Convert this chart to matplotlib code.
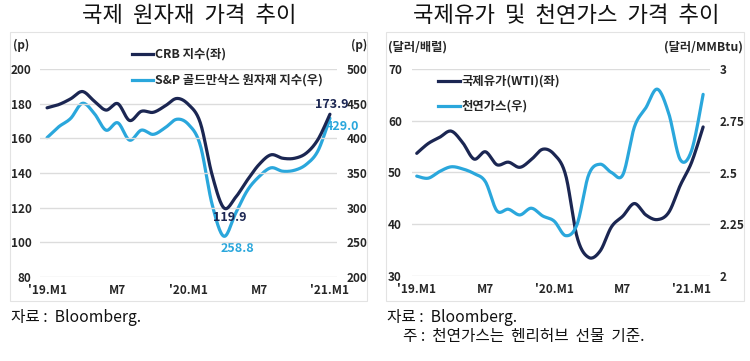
import numpy as np
import matplotlib
matplotlib.use("Agg")
import matplotlib.pyplot as plt
from matplotlib.lines import Line2D
from matplotlib.patches import Rectangle

plt.rcParams['font.family'] = ['Noto Sans CJK KR', 'DejaVu Sans']

# ---------------- data ----------------
left_tick_pos = [0, 6, 12, 18, 24]
left_tick_labels = ["'19.M1", "M7", "'20.M1", "M7", "'21.M1"]
crb = [177.6, 179.5, 182.8, 187.0, 181.5, 176.3, 180.0, 170.3, 175.6, 175.0,
       178.6, 183.0, 179.5, 169.0, 139.0, 119.9, 126.0, 136.0, 145.0, 150.5,
       148.5, 148.5, 151.5, 159.5, 173.9]
gsci = [401.0, 416.8, 428.7, 450.5, 436.0, 411.8, 422.4, 397.4, 411.8, 405.7,
        415.0, 427.5, 420.0, 390.0, 305.0, 258.8, 292.0, 325.0, 345.0, 357.5,
        352.5, 354.0, 362.5, 382.5, 429.0]

right_tick_pos = [0, 6, 12, 18, 24]
right_tick_labels = ["'19.M1", "M7", "'20.M1", "M7", "'21.M1"]
wti = [53.7, 55.6, 56.8, 58.0, 55.8, 52.6, 54.0, 51.5, 52.0, 51.0,
       52.5, 54.5, 53.5, 49.5, 37.5, 33.6, 34.8, 39.5, 41.6, 44.0,
       41.8, 40.9, 42.3, 47.5, 52.0, 58.8]
gas = [2.4825, 2.4725, 2.505, 2.5275, 2.5175, 2.495, 2.455, 2.315, 2.3225, 2.295,
       2.3275, 2.29, 2.265, 2.195, 2.25, 2.4875, 2.54, 2.50, 2.49, 2.72,
       2.8125, 2.9025, 2.785, 2.5625, 2.6075, 2.8775]

NAVY = '#1b2652'
SKY = '#2aa7dc'
GRID = '#dcdcdc'
TXT = '#262626'

W, H = 750, 361


def smooth(y, n=16):
    """Catmull-Rom curve through the points (rendering only, like Excel's smoothed line)."""
    x = np.arange(len(y), dtype=float)
    P = np.column_stack([x, np.asarray(y, dtype=float)])
    P = np.vstack([P[0], P, P[-1]])
    out = []
    for i in range(1, len(P) - 2):
        p0, p1, p2, p3 = P[i - 1], P[i], P[i + 1], P[i + 2]
        t = np.linspace(0, 1, n, endpoint=False)[:, None]
        pts = 0.5 * (2 * p1 + (-p0 + p2) * t + (2 * p0 - 5 * p1 + 4 * p2 - p3) * t ** 2
                     + (-p0 + 3 * p1 - 3 * p2 + p3) * t ** 3)
        out.append(pts)
    out.append(P[-2][None, :])
    out = np.vstack(out)
    return out[:, 0], out[:, 1]


def fx(px):
    return px / W


def fy(py):
    return 1 - py / H


fig = plt.figure(figsize=(7.5, 3.61), dpi=100)

# panel borders
for (x0, y0, x1, y1) in [(10, 32, 367, 301), (386, 32, 744, 301)]:
    fig.add_artist(Rectangle((fx(x0), fy(y1)), fx(x1 - x0), (y1 - y0) / H,
                             transform=fig.transFigure, fill=False,
                             edgecolor='#e3e3e3', linewidth=0.8))

TICK_FS = 8.5


def style_axes(ax, ax2, yticks, y2ticks, xticks, xlabels, lpad, rpad):
    for a in (ax, ax2):
        for s in a.spines.values():
            s.set_visible(False)
        a.tick_params(length=0)
    ax.set_yticks(yticks)
    ax2.set_yticks(y2ticks)
    ax.grid(axis='y', color=GRID, linewidth=1.0)
    ax.set_axisbelow(True)
    ax.set_xticks(xticks)
    ax.set_xticklabels(xlabels)
    ax.tick_params(axis='x', pad=5, labelsize=TICK_FS, labelcolor=TXT)
    ax.tick_params(axis='y', pad=lpad, labelsize=TICK_FS, labelcolor=TXT)
    ax2.tick_params(axis='y', pad=rpad, labelsize=TICK_FS, labelcolor=TXT)
    for lab in ax.get_xticklabels() + ax.get_yticklabels() + ax2.get_yticklabels():
        lab.set_fontweight('bold')


# ---------------- left chart ----------------
axL = fig.add_axes([fx(40), fy(277), fx(297), 208 / H])
axL2 = axL.twinx()
axL.set_ylim(80, 200)
axL2.set_ylim(200, 500)
axL.set_xlim(-0.6, 24.6)
style_axes(axL, axL2, np.arange(80, 201, 20), np.arange(200, 501, 50),
           left_tick_pos, left_tick_labels, 6, 7)
xs, ys = smooth(crb)
axL.plot(xs, ys, color=NAVY, lw=2.3, solid_capstyle='round', zorder=3)
xs, ys = smooth(gsci)
axL2.plot(xs, ys, color=SKY, lw=2.3, solid_capstyle='round', zorder=2)
axL.set_zorder(axL2.get_zorder() + 1)
axL.patch.set_visible(False)

imin = int(np.argmin(crb))
axL.annotate(f"{crb[imin]:.1f}", (imin, crb[imin]), xytext=(4, -7),
             textcoords='offset points', ha='center', va='center',
             color=NAVY, fontsize=9, fontweight='bold')
axL.annotate(f"{crb[-1]:.1f}", (24, crb[-1]), xytext=(1, 7),
             textcoords='offset points', ha='center', va='center',
             color=NAVY, fontsize=9, fontweight='bold')
jmin = int(np.argmin(gsci))
axL2.annotate(f"{gsci[jmin]:.1f}", (jmin, gsci[jmin]), xytext=(10, -9),
              textcoords='offset points', ha='center', va='center',
              color=SKY, fontsize=9, fontweight='bold')
axL2.annotate(f"{gsci[-1]:.1f}", (24, gsci[-1]), xytext=(9, -6),
              textcoords='offset points', ha='center', va='center',
              color=SKY, fontsize=9, fontweight='bold')

fig.text(fx(13), fy(45), "(p)", fontsize=8.5, fontweight='bold', color=TXT, va='center', ha='left')
fig.text(fx(367), fy(45), "(p)", fontsize=8.5, fontweight='bold', color=TXT, va='center', ha='right')

for (yy, col, lab) in [(54, NAVY, "CRB 지수(좌)"), (80, SKY, "S&P 골드만삭스 원자재 지수(우)")]:
    fig.add_artist(Line2D([fx(132), fx(153)], [fy(yy), fy(yy)], color=col, lw=2.3,
                          transform=fig.transFigure))
    fig.text(fx(155), fy(yy), lab, fontsize=8.9, fontweight='bold', color=TXT,
             va='center', ha='left')

fig.text(fx(189), fy(15), "국제  원자재  가격  추이", fontsize=16, color='#111111',
         ha='center', va='center')
fig.text(fx(11), fy(317), "자료 :  Bloomberg.", fontsize=11.3, color='#111111',
         ha='left', va='center')

# ---------------- right chart ----------------
axR = fig.add_axes([fx(411.7), fy(276), fx(298.3), 207 / H])
axR2 = axR.twinx()
axR.set_ylim(30, 70)
axR2.set_ylim(2, 3)
axR.set_xlim(-0.44, 25.6)
style_axes(axR, axR2, np.arange(30, 71, 10), [2, 2.25, 2.5, 2.75, 3],
           right_tick_pos, right_tick_labels, 7, 7)
axR2.set_yticklabels(["2", "2.25", "2.5", "2.75", "3"])
for lab in axR2.get_yticklabels():
    lab.set_fontweight('bold')
xs, ys = smooth(wti)
axR.plot(xs, ys, color=NAVY, lw=2.3, solid_capstyle='round', zorder=3)
xs, ys = smooth(gas)
axR2.plot(xs, ys, color=SKY, lw=2.3, solid_capstyle='round', zorder=2)

fig.text(fx(388), fy(47), "(달러/배럴)", fontsize=8.8, fontweight='bold', color=TXT, va='center', ha='left')
fig.text(fx(743), fy(47), "(달러/MMBtu)", fontsize=8.8, fontweight='bold', color=TXT, va='center', ha='right')

for (yy, col, lab) in [(81, NAVY, "국제유가(WTI)(좌)"), (106, SKY, "천연가스(우)")]:
    fig.add_artist(Line2D([fx(438), fx(460)], [fy(yy), fy(yy)], color=col, lw=2.3,
                          transform=fig.transFigure))
    fig.text(fx(462), fy(yy), lab, fontsize=8.9, fontweight='bold', color=TXT,
             va='center', ha='left')

fig.text(fx(566), fy(15), "국제유가  및  천연가스  가격  추이", fontsize=16, color='#111111',
         ha='center', va='center')
fig.text(fx(387), fy(317), "자료 :  Bloomberg.", fontsize=11.3, color='#111111',
         ha='left', va='center')
fig.text(fx(403), fy(337), "주 :  천연가스는  헨리허브  선물  기준.", fontsize=11.3, color='#111111',
         ha='left', va='center')

fig.savefig("out.png", dpi=100)
